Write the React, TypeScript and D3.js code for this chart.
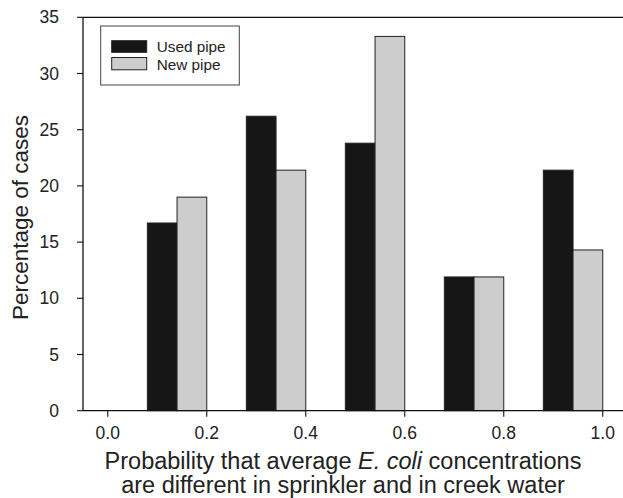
import React from "react";
import * as d3 from "d3";

const W = 623;
const H = 498;

// upper edge of each probability bin
const binEdges = [0.2, 0.4, 0.6, 0.8, 1.0];
const usedPipe = [16.7, 26.2, 23.8, 11.9, 21.4];
const newPipe = [19.0, 21.4, 33.3, 11.9, 14.3];
const xTicks = [0.0, 0.2, 0.4, 0.6, 0.8, 1.0];
const yTicks = [0, 5, 10, 15, 20, 25, 30, 35];

const BAR_W = 0.06;
const FONT = "'Liberation Sans', Arial, Helvetica, sans-serif";
const BLACK = "#161616";
const GREY = "#cdcdcd";

export default function App() {
  const x = d3.scaleLinear().domain([-0.05, 1.05]).range([83, 627.5]);
  const y = d3.scaleLinear().domain([0, 35]).range([410.7, 17.3]);

  const left = x(-0.05);
  const right = x(1.05);

  const bars = binEdges.flatMap((u, i) => [
    { key: "u" + i, x0: u - 2 * BAR_W, x1: u - BAR_W, v: usedPipe[i], fill: BLACK },
    { key: "n" + i, x0: u - BAR_W, x1: u, v: newPipe[i], fill: GREY },
  ]);

  return (
    <svg
      width={W}
      height={H}
      style={{ position: "absolute", left: 0, top: 0, background: "#fff" }}
      fontFamily={FONT}
    >
      {bars.map((b) => (
        <rect
          key={b.key}
          x={x(b.x0)}
          width={x(b.x1) - x(b.x0)}
          y={y(b.v)}
          height={y(0) - y(b.v)}
          fill={b.fill}
          stroke="#222"
          strokeWidth={1}
        />
      ))}

      {/* frame: top, left, bottom */}
      <line x1={left} x2={right} y1={y(35)} y2={y(35)} stroke="#111" strokeWidth={1.3} />
      <line x1={left} x2={right} y1={y(0)} y2={y(0)} stroke="#111" strokeWidth={1.3} />
      <line x1={left} x2={left} y1={y(35)} y2={y(0)} stroke="#111" strokeWidth={1.3} />

      {/* y axis */}
      {yTicks.map((t) => (
        <g key={"y" + t}>
          <line x1={left - 6} x2={left} y1={y(t)} y2={y(t)} stroke="#111" strokeWidth={1.1} />
          <text
            x={59}
            y={y(t)}
            dy="0.35em"
            textAnchor="end"
            fontSize={17.5}
            fill="#222"
          >
            {t}
          </text>
        </g>
      ))}

      {/* x axis */}
      {xTicks.map((t) => (
        <g key={"x" + t}>
          <line x1={x(t)} x2={x(t)} y1={y(0)} y2={y(0) + 6} stroke="#111" strokeWidth={1.1} />
          <text x={x(t)} y={438.5} textAnchor="middle" fontSize={17.5} fill="#222">
            {d3.format(".1f")(t)}
          </text>
        </g>
      ))}

      {/* axis titles */}
      <text
        transform={`translate(27.5,217.5) rotate(-90)`}
        textAnchor="middle"
        fontSize={22.5}
        fill="#222"
      >
        Percentage of cases
      </text>
      <text x={343} y={469} textAnchor="middle" fontSize={23.5} fill="#222">
        Probability that average <tspan fontStyle="italic">E. coli</tspan> concentrations
      </text>
      <text x={343} y={493} textAnchor="middle" fontSize={23.5} fill="#222">
        are different in sprinkler and in creek water
      </text>

      {/* legend */}
      <rect x={100.7} y={26} width={138.6} height={59} fill="#fff" stroke="#444" strokeWidth={1} />
      <rect x={111.7} y={40.7} width={35} height={11.6} fill={BLACK} stroke="#222" strokeWidth={1} />
      <rect x={111.7} y={57.5} width={35} height={12.3} fill={GREY} stroke="#222" strokeWidth={1} />
      <text x={156.7} y={51.7} fontSize={15.3} fill="#222">
        Used pipe
      </text>
      <text x={156.7} y={69.5} fontSize={15.3} fill="#222">
        New pipe
      </text>
    </svg>
  );
}
